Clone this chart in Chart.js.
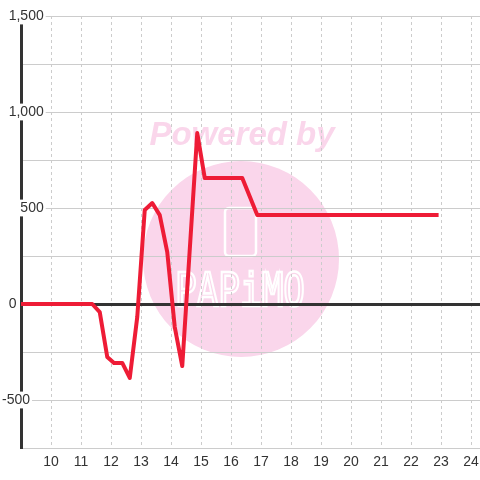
<!DOCTYPE html>
<html>
<head>
<meta charset="utf-8">
<script src="https://cdn.jsdelivr.net/npm/chart.js@4/dist/chart.umd.min.js"></script>
<style>
  html, body { margin: 0; padding: 0; background: #ffffff; }
  #wrap { width: 480px; height: 480px; }
</style>
</head>
<body>
<div id="wrap"><canvas id="chart" width="480" height="480"></canvas></div>
<script>
// 時刻（時）と値
const hours = [8.875, 11.375, 11.625, 11.875, 12.1, 12.375, 12.625, 12.875, 13.125, 13.375, 13.625, 13.875, 14.125, 14.375, 14.875, 15.125, 16.375, 16.875, 22.92];
const values = [0, 0, -42, -276, -307, -307, -385, -68, 490, 526, 463, 270, -120, -323, 890, 656, 656, 463, 463];

// 軸の範囲
const xMin = 9;
const xMax = 24.3;
const yMin = -750;
const yMax = 1500;

const points = hours.map((h, i) => ({ x: h, y: values[i] }));

// 透かし（Powered by）
const watermark = {
    id: 'watermark',
    beforeDraw(chart) {
        const ctx = chart.ctx;
        ctx.save();
        ctx.fillStyle = '#fad6eb';
        ctx.beginPath();
        ctx.arc(241, 259, 98, 0, Math.PI * 2);
        ctx.fill();

        ctx.font = 'italic bold 33px "Liberation Sans", Arial, sans-serif';
        ctx.textAlign = 'center';
        ctx.textBaseline = 'alphabetic';
        ctx.fillText('Powered by', 242, 145);

        ctx.strokeStyle = '#ffffff';
        ctx.lineWidth = 2.5;
        ctx.beginPath();
        ctx.roundRect(225, 208, 31, 48, 4);
        ctx.stroke();

        ctx.translate(240, 306);
        ctx.scale(1, 1.3);
        ctx.font = '36px "DejaVu Sans Mono", monospace';
        ctx.lineWidth = 2;
        ctx.strokeText('PAPiMO', 0, 0);
        ctx.restore();
    }
};

// ラベルの左寄せ位置合わせ
function yLabel(v) {
    if (v % 500 !== 0) return '';
    if (v === 0) return ' \u20090';
    if (v < 0) return String(v);
    if (v === 500) return '    \u2009500';
    return ' \u2009' + v.toLocaleString('en-US');
}

function createChart() {
    const ctx = document.getElementById('chart').getContext('2d');
    new Chart(ctx, {
        type: 'line',
        data: {
            datasets: [{
                data: points,
                borderColor: '#ee1c36',
                borderWidth: 4,
                borderJoinStyle: 'round',
                pointRadius: 0,
                tension: 0,
                fill: false
            }]
        },
        options: {
            responsive: false,
            animation: false,
            layout: { padding: { top: 16, right: 0, left: 0, bottom: 0 } },
            plugins: {
                legend: { display: false },
                tooltip: { enabled: false }
            },
            scales: {
                x: {
                    type: 'linear',
                    min: xMin,
                    max: xMax,
                    afterFit(scale) {
                        scale.height = 32;
                        scale.paddingLeft = 0;
                        scale.paddingRight = 0;
                    },
                    border: { display: false, dash: [3, 3] },
                    grid: { color: '#cccccc', lineWidth: 1, drawTicks: false },
                    ticks: {
                        stepSize: 1,
                        includeBounds: false,
                        autoSkip: false,
                        maxRotation: 0,
                        padding: 6,
                        color: '#333333',
                        font: { family: '"Liberation Sans", Arial, sans-serif', size: 14 },
                        callback: v => (v === xMin ? '' : String(v))
                    }
                },
                y: {
                    min: yMin,
                    max: yMax,
                    afterFit(scale) { scale.width = 21; },
                    border: { display: true, color: '#333333', width: 3 },
                    grid: {
                        drawTicks: false,
                        color: c => (c.tick && c.tick.value === 0 ? '#333333' : '#cccccc'),
                        lineWidth: c => (c.tick && c.tick.value === 0 ? 3 : 1)
                    },
                    ticks: {
                        stepSize: 250,
                        autoSkip: false,
                        mirror: true,
                        padding: -19,
                        color: '#333333',
                        font: { family: '"Liberation Sans", Arial, sans-serif', size: 14 },
                        showLabelBackdrop: c => c.tick && c.tick.value !== 0,
                        backdropColor: '#ffffff',
                        backdropPadding: { x: 2, y: 0 },
                        callback: yLabel
                    }
                }
            }
        },
        plugins: [watermark]
    });
}

createChart();
</script>
</body>
</html>
